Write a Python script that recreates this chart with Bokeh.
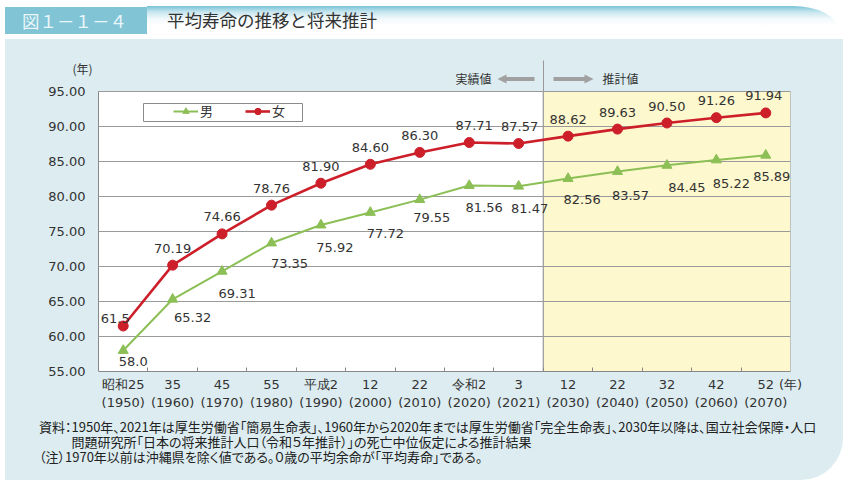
from bokeh.plotting import figure
from bokeh.models import (Range1d, FixedTicker, NumeralTickFormatter, BoxAnnotation, Label,
                          LabelSet, ColumnDataSource, Legend, LegendItem, Div, PolyAnnotation)
from bokeh.layouts import column
from bokeh.core.properties import value
from bokeh.embed import file_html
from bokeh.resources import INLINE

# ---------------- data ----------------
categories = ["昭和25\n(1950)", "35\n(1960)", "45\n(1970)", "55\n(1980)", "平成2\n(1990)",
              "12\n(2000)", "22\n(2010)", "令和2\n(2020)", "3\n(2021)", "12\n(2030)",
              "22\n(2040)", "32\n(2050)", "42\n(2060)", "52\n(2070)"]
male = [58.0, 65.32, 69.31, 73.35, 75.92, 77.72, 79.55, 81.56, 81.47, 82.56, 83.57, 84.45, 85.22, 85.89]
female = [61.5, 70.19, 74.66, 78.76, 81.90, 84.60, 86.30, 87.71, 87.57, 88.62, 89.63, 90.50, 91.26, 91.94]
male_text = ["58.0", "65.32", "69.31", "73.35", "75.92", "77.72", "79.55", "81.56", "81.47",
             "82.56", "83.57", "84.45", "85.22", "85.89"]
female_text = ["61.5", "70.19", "74.66", "78.76", "81.90", "84.60", "86.30", "87.71", "87.57",
               "88.62", "89.63", "90.50", "91.26", "91.94"]
y_ticks = [55, 60, 65, 70, 75, 80, 85, 90, 95]
projection_start = 9  # index of first projected category (2030)

title_no = "図１－１－４"
title = "平均寿命の推移と将来推計"
unit_label = "(年)"
actual_label = "実績値"
projected_label = "推計値"
legend_labels = ["男", "女"]
note_lines = [
    "資料：1950年、2021年は厚生労働省「簡易生命表」、1960年から2020年までは厚生労働省「完全生命表」、2030年以降は、国立社会保障・人口",
    "問題研究所「日本の将来推計人口（令和５年推計）」の死亡中位仮定による推計結果",
    "（注）1970年以前は沖縄県を除く値である。０歳の平均余命が「平均寿命」である。",
]

# ---------------- label offsets (layout) ----------------
female_dx = [-8, 0, 0, 0, 0, 0, 0, 5, 1, 0, 0, 0, 0, -2]
female_dy = [8, 17, 17, 17, 17, 17, 17, 17, 17, 17, 17, 17, 17, 17]
male_dx = [10, 20, 15, 18, 14, 15, 12, 15, 11, 14, 13, 20, 15, 6]
male_dy = [-11, -18, -22, -20, -22, -21, -18, -22, -22, -21, -24, -22, -24, -21]

FNUM = "DejaVu Sans"
FJP = "Noto Sans CJK JP"
RED = "#cc1f2a"
GREEN = "#8cbf55"
GRID = "#9a9a9a"
AXIS = "#888888"
TXT = "#333333"
BLUE = "#dcecf0"
ARROW = "#a0a0a0"
SEP = "#999999"

W = 848
HEAD_H = 39          # header div: page y 0..39 (title bar)
FRAME_LEFT = 70      # page x where the drawing frame starts (room for "(年)")
AXIS_X = 98          # page x of the y axis line
PLOT_RIGHT = 790     # page x of the right edge of the plot area
FRAME_TOP = 91       # page y of the 95.00 line
FRAME_BOTTOM = 371   # page y of the 55.00 line
FIG_H = 412 - HEAD_H
NOTE_H = 485 - HEAD_H - FIG_H
PX_PER_UNIT = (FRAME_BOTTOM - FRAME_TOP) / (y_ticks[-1] - y_ticks[0])
n = len(categories)
PX_PER_CAT = (PLOT_RIGHT - AXIS_X) / n

# ---------------- header (title bar) ----------------
header_html = f"""
<div style="position:relative;width:{W}px;height:{HEAD_H}px;background:#ffffff;overflow:hidden;
            font-family:'Noto Sans CJK JP',sans-serif;">
  <div style="position:absolute;left:147px;top:6px;width:690px;height:22px;border-top-right-radius:44px 22px;
              background:linear-gradient(to bottom, rgba(96,184,208,0.85) 0px, rgba(96,184,208,0.35) 6px,
              rgba(96,184,208,0.08) 13px, rgba(96,184,208,0) 20px);"></div>
  <div style="position:absolute;left:5px;top:7px;width:142px;height:27px;background:#80c4d6;"></div>
  <div style="position:absolute;left:22px;top:7px;height:27px;line-height:27px;font-size:17.5px;
              color:#eaf6f9;white-space:nowrap;">{title_no}</div>
  <div style="position:absolute;left:167px;top:6px;height:28px;line-height:28px;font-size:17.5px;
              color:#333333;white-space:nowrap;">{title}</div>
</div>
"""
header = Div(text=header_html, width=W, height=HEAD_H, margin=(0, 0, 0, 0))

# ---------------- chart ----------------
xs = [i + 0.5 for i in range(n)]
x_start = -(AXIS_X - FRAME_LEFT) / PX_PER_CAT
y_top = y_ticks[-1] + (FRAME_TOP - HEAD_H) / PX_PER_UNIT   # frame reaches the top of the figure

p = figure(width=W, height=FIG_H, output_backend="svg", toolbar_location=None,
           x_range=Range1d(x_start, n), y_range=Range1d(y_ticks[0], y_top),
           min_border_left=FRAME_LEFT, min_border_right=W - PLOT_RIGHT, min_border_top=0,
           min_border_bottom=412 - FRAME_BOTTOM,
           background_fill_color=BLUE, background_fill_alpha=0,
           border_fill_color=BLUE, border_fill_alpha=0,
           outline_line_color=None, margin=(0, 0, 0, 0),
           styles={"background": f"linear-gradient(to right, #ffffff 5px, {BLUE} 5px, {BLUE} 843px, #ffffff 843px)"})


def cy(page_y):
    """page y -> canvas y of this figure"""
    return page_y - HEAD_H


def sx(page_x):
    """page x -> screen x relative to the frame"""
    return page_x - FRAME_LEFT


def sy(page_y):
    """page y -> screen y relative to the frame bottom"""
    return FRAME_BOTTOM - page_y


# plot area: white (actual, its left border is the y axis line) and yellow (projection)
p.add_layout(BoxAnnotation(left=0, right=projection_start, bottom=y_ticks[0], top=y_ticks[-1],
                           fill_color="white", fill_alpha=1, line_color=AXIS, line_alpha=1,
                           line_width=1, level="image"))
p.add_layout(BoxAnnotation(left=projection_start, right=n, bottom=y_ticks[0], top=y_ticks[-1],
                           fill_color="#fdf8cd", fill_alpha=1, line_color=SEP, line_alpha=1,
                           line_width=1, level="image"))

# horizontal grid lines limited to the plot area
grid = p.ygrid[0]
grid.ticker = FixedTicker(ticks=y_ticks)
if "cross_bounds" in grid.properties():
    grid.cross_bounds = (0, n)
    grid.grid_line_color = GRID
    grid.grid_line_width = 1
else:
    grid.visible = False
    p.segment(x0=[0] * len(y_ticks), x1=[n] * len(y_ticks), y0=y_ticks, y1=y_ticks,
              line_color=GRID, line_width=1, level="underlay")
p.xgrid.visible = False

# separator line above the plot area and the two arrows
p.add_layout(BoxAnnotation(left=542.5, right=543.5, top=cy(60), bottom=cy(FRAME_TOP),
                           left_units="canvas", right_units="canvas", top_units="canvas",
                           bottom_units="canvas", fill_color=SEP, fill_alpha=1, line_color=None))
arrow_ys = [cy(v) for v in [76.5, 76.5, 74, 78.5, 83, 80.5, 80.5]]
p.add_layout(PolyAnnotation(xs=[534, 506, 506, 497, 506, 506, 534], ys=arrow_ys,
                            xs_units="canvas", ys_units="canvas", fill_color=ARROW, fill_alpha=1,
                            line_color=None))
p.add_layout(PolyAnnotation(xs=[553, 584, 584, 593, 584, 584, 553], ys=arrow_ys,
                            xs_units="canvas", ys_units="canvas", fill_color=ARROW, fill_alpha=1,
                            line_color=None))
for px, py, txt in [(473, 78, actual_label), (620, 78, projected_label), (82, 68, unit_label)]:
    p.add_layout(Label(x=sx(px), y=sy(py), x_units="screen", y_units="screen",
                       text=txt, text_font=FJP, text_font_size="12px", text_color=TXT,
                       text_align="center", text_baseline="middle"))

# axes
x_ticks = xs + [float(n)]
x_labels = {x: c for x, c in zip(xs, categories)}
x_labels[float(n)] = unit_label
xaxis = p.xaxis[0]
xaxis.bounds = (0, n)
xaxis.ticker = FixedTicker(ticks=x_ticks, minor_ticks=list(range(1, n)))
xaxis.major_label_overrides = x_labels
xaxis.major_tick_line_color = None
xaxis.major_tick_in = 0
xaxis.major_tick_out = 0
xaxis.minor_tick_in = 4
xaxis.minor_tick_out = 0
xaxis.minor_tick_line_color = AXIS
xaxis.axis_line_color = AXIS
xaxis.major_label_text_font = FNUM
xaxis.major_label_text_font_size = "13px"
xaxis.major_label_text_color = TXT
xaxis.major_label_standoff = 5

yaxis = p.yaxis[0]
yaxis.ticker = FixedTicker(ticks=y_ticks)
yaxis.bounds = (y_ticks[0], y_ticks[-1])
yaxis.formatter = NumeralTickFormatter(format="0.00")
yaxis.major_tick_line_color = None
yaxis.major_tick_in = 0
yaxis.major_tick_out = 0
yaxis.minor_tick_line_color = None
yaxis.axis_line_color = None           # the plot-area border draws the line at x = 0
yaxis.major_label_text_font = FNUM
yaxis.major_label_text_font_size = "13px"
yaxis.major_label_text_color = TXT
yaxis.major_label_standoff = -(85 - FRAME_LEFT)   # labels end at page x = 85

# data
src = ColumnDataSource(dict(x=xs, male=male, female=female, mt=male_text, ft=female_text,
                            mdx=male_dx, mdy=male_dy, fdx=female_dx, fdy=female_dy))
m_line = p.line("x", "male", source=src, line_color=GREEN, line_width=2)
m_pts = p.scatter("x", "male", source=src, marker="triangle", size=10, fill_color=GREEN, line_color=GREEN)
f_line = p.line("x", "female", source=src, line_color=RED, line_width=2.6)
f_pts = p.scatter("x", "female", source=src, marker="circle", size=10, fill_color=RED, line_color=RED)

p.add_layout(LabelSet(x="x", y="female", text="ft", source=src, x_offset="fdx", y_offset="fdy",
                      text_font=value(FNUM), text_font_size=value("13px"), text_color=TXT,
                      text_align="center", text_baseline="middle"))
p.add_layout(LabelSet(x="x", y="male", text="mt", source=src, x_offset="mdx", y_offset="mdy",
                      text_font=value(FNUM), text_font_size=value("13px"), text_color=TXT,
                      text_align="center", text_baseline="middle"))

# legend (box in canvas pixels of this figure)
p.add_layout(BoxAnnotation(left=143, right=302, top=cy(103), bottom=cy(121),
                           left_units="canvas", right_units="canvas", top_units="canvas",
                           bottom_units="canvas", fill_color="white", fill_alpha=1,
                           line_color="#8a8a8a", line_alpha=1, line_width=1))
legend = Legend(items=[LegendItem(label=legend_labels[0], renderers=[m_line, m_pts]),
                       LegendItem(label=legend_labels[1], renderers=[f_line, f_pts])],
                location=(sx(173), sy(120)), orientation="horizontal",
                padding=0, margin=0, spacing=25, glyph_width=25, glyph_height=16,
                label_height=16, label_standoff=2, label_text_font=FJP,
                label_text_font_size="13px", label_text_color=TXT,
                border_line_color=None, background_fill_alpha=0)
p.add_layout(legend, "center")

# ---------------- notes (one text block) ----------------
note_text = (note_lines[0] + "\n" + "\u2003\u2003\u2002" + note_lines[1] + "\n" + note_lines[2])
note_top = 426 - (HEAD_H + FIG_H) - 7.5
notes_html = f"""
<div style="position:relative;width:{W}px;height:{NOTE_H}px;background:#ffffff;overflow:hidden;
            font-family:'Noto Sans CJK JP',sans-serif;font-size:13px;color:#222222;">
  <div style="position:absolute;left:5px;top:0;width:838px;height:{480 - HEAD_H - FIG_H}px;background:{BLUE};
              border-bottom-right-radius:42px;"></div>
  <div style="position:absolute;left:39px;top:{note_top}px;line-height:15px;white-space:pre;
              font-feature-settings:'palt' 1;">{note_text}</div>
</div>
"""
notes = Div(text=notes_html, width=W, height=NOTE_H, margin=(0, 0, 0, 0))

layout = column(header, p, notes, spacing=0)
open("out.html", "w").write(file_html(layout, INLINE))
